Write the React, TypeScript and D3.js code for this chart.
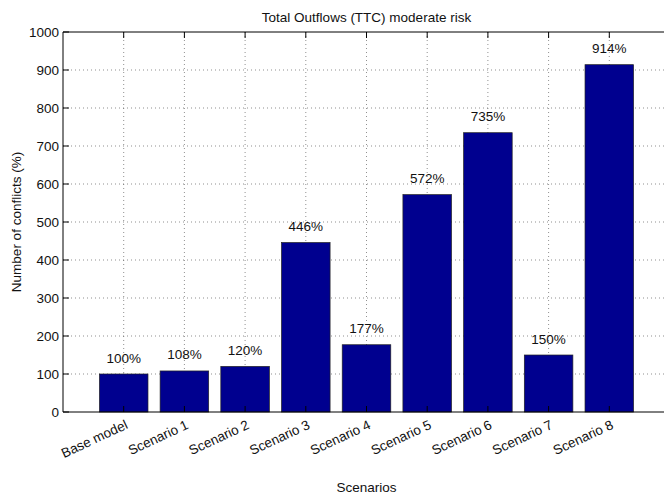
import React from "react";
import * as d3 from "d3";

const categories = ["Base model", "Scenario 1", "Scenario 2", "Scenario 3", "Scenario 4", "Scenario 5", "Scenario 6", "Scenario 7", "Scenario 8"];
const values = [100, 108, 120, 446, 177, 572, 735, 150, 914];
const yTicks = [0, 100, 200, 300, 400, 500, 600, 700, 800, 900, 1000];

const W = 664, H = 495;
const left = 63, top = 32, bottom = 412, right = 670;
const font = "'Liberation Sans', Arial, Helvetica, sans-serif";
const fs = 13.5;

export default function App() {
  const x = d3.scaleLinear().domain([0, categories.length + 1]).range([left, right]);
  const y = d3.scaleLinear().domain([0, 1000]).range([bottom, top]);
  const bw = x(0.8) - x(0);
  const cx = (left + right) / 2;
  return (
    <svg width={W} height={H} style={{ position: "absolute", left: 0, top: 0, background: "#fff" }} fontFamily={font}>
      <rect x={0} y={0} width={W} height={H} fill="#fff" />
      {/* grid */}
      {yTicks.slice(1, -1).map((t) => (
        <line key={"gy" + t} x1={left} x2={right} y1={y(t)} y2={y(t)} stroke="#444" strokeWidth={0.6} strokeDasharray="1,3" />
      ))}
      {categories.map((c, i) => (
        <line key={"gx" + c} x1={x(i + 1)} x2={x(i + 1)} y1={top} y2={bottom} stroke="#444" strokeWidth={0.6} strokeDasharray="1,3" />
      ))}
      {/* bars */}
      {values.map((v, i) => (
        <rect key={"b" + i} x={x(i + 1) - bw / 2} y={y(v)} width={bw} height={y(0) - y(v)} fill="#00008f" stroke="#222" strokeWidth={0.7} />
      ))}
      {/* value labels */}
      {values.map((v, i) => (
        <text key={"l" + i} x={x(i + 1)} y={y(v) - 11.5} textAnchor="middle" fontSize={fs} fill="#111">{v}%</text>
      ))}
      {/* axes */}
      <line x1={left} x2={right} y1={top} y2={top} stroke="#000" strokeWidth={1} />
      <line x1={left} x2={right} y1={bottom} y2={bottom} stroke="#000" strokeWidth={1} />
      <line x1={left} x2={left} y1={top} y2={bottom} stroke="#000" strokeWidth={1} />
      {yTicks.map((t) => (
        <g key={"yt" + t}>
          <line x1={left} x2={left + 6} y1={y(t)} y2={y(t)} stroke="#000" />
          <text x={left - 4} y={y(t)} dy="0.35em" textAnchor="end" fontSize={fs} fill="#111">{t}</text>
        </g>
      ))}
      {categories.map((c, i) => (
        <g key={"xt" + c}>
          <line x1={x(i + 1)} x2={x(i + 1)} y1={bottom} y2={bottom - 6} stroke="#000" />
          <line x1={x(i + 1)} x2={x(i + 1)} y1={top} y2={top + 6} stroke="#000" />
          <text transform={`translate(${x(i + 1) + 5},${bottom + 16}) rotate(-25)`} textAnchor="end" fontSize={fs} fill="#111">{c}</text>
        </g>
      ))}
      <text x={cx} y={21.5} textAnchor="middle" fontSize={fs} fill="#111">Total Outflows (TTC) moderate risk</text>
      <text x={cx} y={491.5} textAnchor="middle" fontSize={fs} fill="#111">Scenarios</text>
      <text transform={`translate(20.5,${(top + bottom) / 2}) rotate(-90)`} textAnchor="middle" fontSize={fs} fill="#111">Number of conflicts (%)</text>
    </svg>
  );
}
